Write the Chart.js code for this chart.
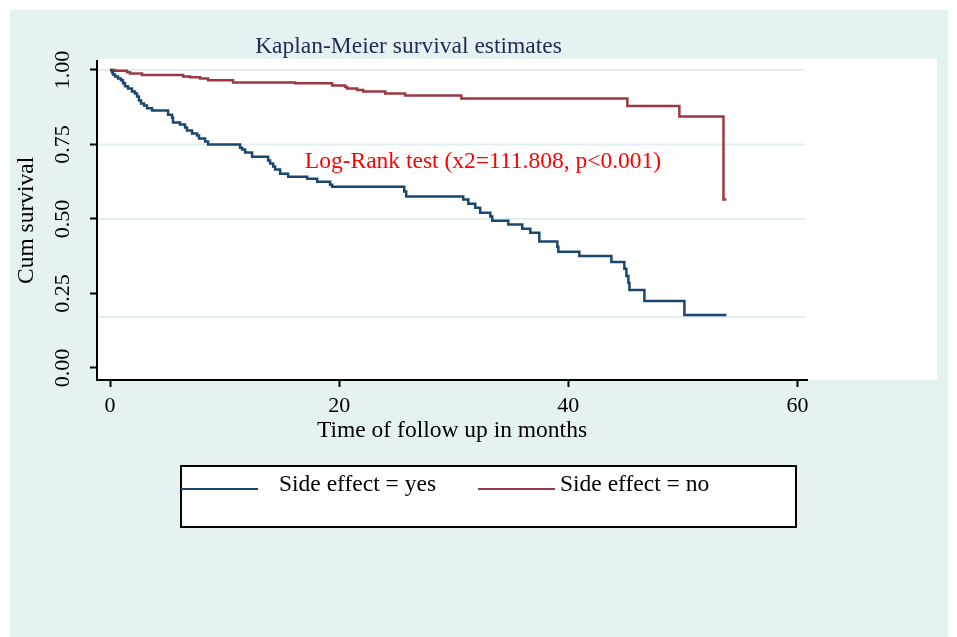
<!DOCTYPE html>
<html>
<head>
<meta charset="utf-8">
<script src="https://cdn.jsdelivr.net/npm/chart.js@4/dist/chart.umd.min.js"></script>
<style>
  html, body { margin: 0; padding: 0; background: #ffffff; overflow: hidden; }
  canvas { display: block; }
</style>
</head>
<body>
<canvas id="c" width="957" height="637"></canvas>
<script>
// ---- data ----
const chartTitle = "Kaplan-Meier survival estimates";
const xAxisTitle = "Time of follow up in months";
const yAxisTitle = "Cum survival";
const xTickValues = [0, 20, 40, 60];
const yTickValues = [0, 0.25, 0.5, 0.75, 1];
const gridLineValues = [1, 0.75, 0.5, 0.171];

const seriesLabels = ["Side effect = yes", "Side effect = no"];

const yesTimes = [0, 0.17, 0.26, 0.44, 0.70, 0.96, 1.14, 1.31, 1.57, 1.92, 2.18, 2.36, 2.53, 2.71, 2.97, 3.23, 3.67,
  5.07, 5.41, 5.50, 6.11, 6.55, 6.72, 7.16, 7.60, 7.77, 8.30, 8.56, 11.35, 11.53, 11.79, 12.40, 13.80, 13.97, 14.24,
  14.41, 14.85, 15.55, 17.21, 18.08, 19.21, 19.39, 25.68, 25.85, 30.83, 31.27, 31.88, 32.31, 33.19, 33.36, 34.76,
  35.98, 36.68, 37.47, 39.04, 39.13, 40.96, 43.76, 44.89, 45.07, 45.24, 45.33, 46.64, 50.13, 53.80];
const yesSurvival = [1.000, 0.992, 0.985, 0.978, 0.971, 0.965, 0.955, 0.945, 0.938, 0.928, 0.921, 0.911, 0.897, 0.887,
  0.881, 0.871, 0.864, 0.850, 0.840, 0.824, 0.817, 0.807, 0.797, 0.787, 0.780, 0.770, 0.760, 0.750, 0.739, 0.733,
  0.723, 0.709, 0.696, 0.686, 0.676, 0.666, 0.652, 0.642, 0.635, 0.625, 0.615, 0.608, 0.592, 0.575, 0.565, 0.551,
  0.538, 0.521, 0.508, 0.494, 0.481, 0.467, 0.454, 0.424, 0.407, 0.390, 0.376, 0.356, 0.333, 0.309, 0.286, 0.262,
  0.225, 0.178, 0.178];

const noTimes = [0, 0.44, 1.48, 1.75, 2.79, 6.38, 6.99, 7.86, 8.56, 10.74, 16.16, 19.39, 20.52, 20.70, 21.57, 22.10,
  24.02, 25.76, 30.66, 45.15, 49.69, 53.54, 53.80];
const noSurvival = [1.000, 0.997, 0.992, 0.988, 0.983, 0.978, 0.975, 0.971, 0.965, 0.958, 0.955, 0.948, 0.943, 0.938,
  0.933, 0.928, 0.921, 0.914, 0.904, 0.879, 0.844, 0.565, 0.565];

const annotationText = "Log-Rank test (x2=111.808, p<0.001)";
const annotationX = 17.0;
const annotationY = 0.692;

// ---- styling ----
const FONT = "'Liberation Serif', 'Times New Roman', serif";
const TXT = 23.5;
const TICK = 22;
const BLUE = "#1a476f";
const RED = "#9b3840";
const BG = "#e6f1f1";
const GRID = "#e3eef0";

const toPoints = (xs, ys) => xs.map((x, i) => ({ x: x, y: ys[i] }));

const backgroundPlugin = {
  id: "bg",
  beforeDraw(chart) {
    const ctx = chart.ctx, a = chart.chartArea;
    ctx.save();
    ctx.fillStyle = "#ffffff";
    ctx.fillRect(0, 0, chart.width, chart.height);
    ctx.fillStyle = BG;
    ctx.fillRect(10, 10, 938, chart.height - 10);
    ctx.fillStyle = "#ffffff";
    ctx.fillRect(a.left, a.top - 2, 937 - a.left, a.bottom - a.top + 2);
    const ys = chart.scales.y;
    ctx.strokeStyle = GRID;
    ctx.lineWidth = 2;
    gridLineValues.forEach(v => {
      const py = ys.getPixelForValue(v);
      ctx.beginPath();
      ctx.moveTo(a.left, py);
      ctx.lineTo(a.right - 2, py);
      ctx.stroke();
    });
    ctx.restore();
  }
};

const annotationPlugin = {
  id: "annot",
  afterDatasetsDraw(chart) {
    const ctx = chart.ctx;
    ctx.save();
    ctx.font = TXT + "px " + FONT;
    ctx.fillStyle = "#ff0000";
    ctx.textAlign = "left";
    ctx.textBaseline = "middle";
    ctx.fillText(annotationText, chart.scales.x.getPixelForValue(annotationX), chart.scales.y.getPixelForValue(annotationY));
    ctx.restore();
  }
};

const legendPlugin = {
  id: "boxLegend",
  afterDraw(chart) {
    const ctx = chart.ctx;
    const ds = chart.data.datasets;
    ctx.save();
    ctx.fillStyle = "#ffffff";
    ctx.fillRect(181, 466, 615, 61);
    ctx.strokeStyle = "#000000";
    ctx.lineWidth = 2;
    ctx.strokeRect(181, 466, 615, 61);
    const items = [
      { x0: 181, x1: 258, tx: 279 },
      { x0: 478, x1: 555, tx: 560 }
    ];
    ctx.font = TXT + "px " + FONT;
    ctx.textBaseline = "alphabetic";
    ctx.textAlign = "left";
    items.forEach((it, i) => {
      ctx.strokeStyle = ds[i].borderColor;
      ctx.lineWidth = 2;
      ctx.beginPath();
      ctx.moveTo(it.x0, 489);
      ctx.lineTo(it.x1, 489);
      ctx.stroke();
      ctx.fillStyle = "#000000";
      ctx.fillText(ds[i].label, it.tx, 491);
    });
    ctx.restore();
  }
};

new Chart(document.getElementById("c"), {
  type: "line",
  data: {
    datasets: [
      { label: seriesLabels[0], data: toPoints(yesTimes, yesSurvival), borderColor: BLUE, borderWidth: 2.5,
        stepped: "before", pointRadius: 0, fill: false },
      { label: seriesLabels[1], data: toPoints(noTimes, noSurvival), borderColor: RED, borderWidth: 2.5,
        stepped: "before", pointRadius: 0, fill: false }
    ]
  },
  options: {
    responsive: false,
    animation: false,
    layout: { padding: { left: 10, right: 150, top: 10, bottom: 189 } },
    plugins: {
      legend: { display: false },
      tooltip: { enabled: false },
      title: {
        display: true, text: chartTitle, color: "#1e2b57",
        font: { family: FONT, size: TXT, weight: "normal" },
        padding: { top: 22.6, bottom: 0 }
      }
    },
    scales: {
      x: {
        type: "linear", min: -1.135, max: 60.83,
        afterBuildTicks: s => { s.ticks = xTickValues.map(v => ({ value: v })); },
        afterFit: s => { s.height = 68; },
        border: { display: true, color: "#000000", width: 2 },
        grid: { drawOnChartArea: false, drawTicks: true, tickLength: 7, tickColor: "#000000", tickWidth: 2 },
        ticks: { color: "#000000", font: { family: FONT, size: TICK }, padding: 6, maxRotation: 0, minRotation: 0 },
        title: { display: true, text: xAxisTitle, color: "#000000", font: { family: FONT, size: TXT },
          padding: { top: 0, bottom: 3 } }
      },
      y: {
        type: "linear", min: -0.0403, max: 1.0306,
        afterBuildTicks: s => { s.ticks = yTickValues.map(v => ({ value: v })); },
        afterFit: s => { s.width = 87; },
        border: { display: true, color: "#000000", width: 2 },
        grid: { drawOnChartArea: false, drawTicks: true, tickLength: 7, tickColor: "#000000", tickWidth: 2 },
        ticks: { color: "#000000", font: { family: FONT, size: TICK }, padding: 8, minRotation: 90, maxRotation: 90,
          crossAlign: "center", callback: v => Number(v).toFixed(2) },
        title: { display: true, text: yAxisTitle, color: "#000000", font: { family: FONT, size: TXT },
          padding: { top: 2.5, bottom: 0 } }
      }
    }
  },
  plugins: [backgroundPlugin, annotationPlugin, legendPlugin]
});
</script>
</body>
</html>
